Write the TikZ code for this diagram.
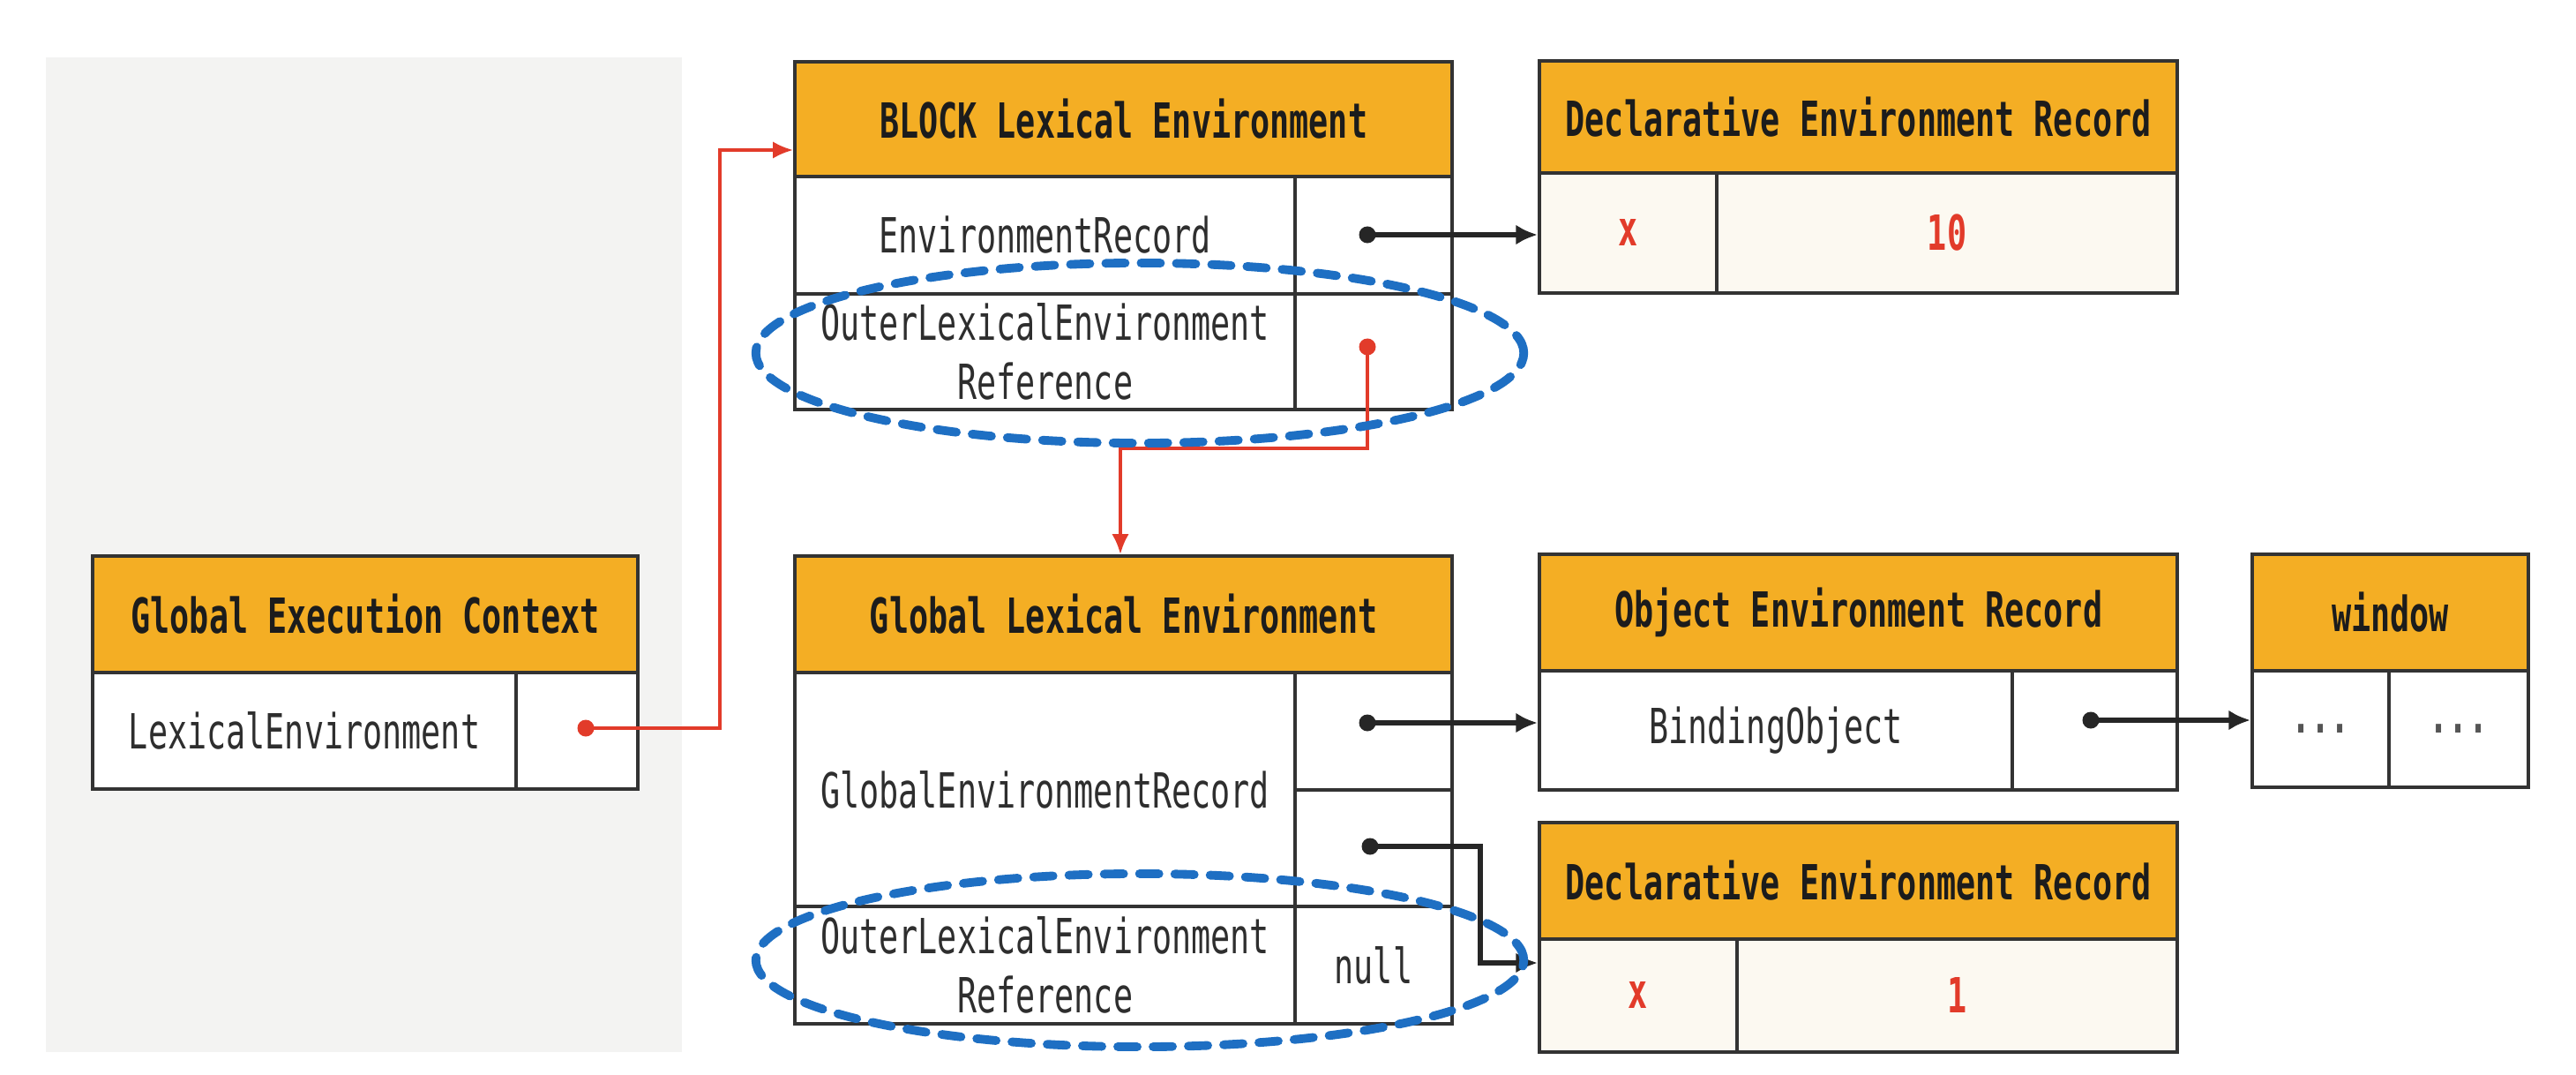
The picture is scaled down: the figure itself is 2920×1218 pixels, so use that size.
\documentclass[tikz,border=0pt]{standalone}
\usepackage{fontspec}
\newfontfamily\mono[FakeStretch=0.67]{DejaVu Sans Mono}
\usetikzlibrary{arrows.meta}
\definecolor{orng}{HTML}{F4AE24}
\definecolor{bordc}{HTML}{333333}
\definecolor{txtc}{HTML}{2E2E2E}
\definecolor{hdrtxt}{HTML}{1C1C1C}
\definecolor{creamc}{HTML}{FCF9F1}
\definecolor{panelc}{HTML}{F3F3F2}
\definecolor{redc}{HTML}{E23B2A}
\definecolor{bluec}{HTML}{1E6FC3}
\definecolor{dotsc}{HTML}{555555}
\tikzset{
  cellbase/.style={draw=bordc, line width=1.1pt, inner sep=0pt, anchor=north west,
    text=txtc, align=center, font=\mono\fontsize{15.6pt}{19pt}\selectfont},
  hdr/.style={cellbase, fill=orng, text=hdrtxt, font=\mono\bfseries\fontsize{15.6pt}{19pt}\selectfont},
  bodycell/.style={cellbase, fill=white},
  creamcell/.style={cellbase, fill=creamc},
  redval/.style={text=redc, font=\mono\bfseries\fontsize{15.6pt}{19pt}\selectfont},
  blackdot/.style={circle, fill=black!85, inner sep=0pt, minimum size=0.19cm},
  reddot/.style={circle, fill=redc, inner sep=0pt, minimum size=0.19cm},
  blackconn/.style={draw=black!85, line width=1.5pt, -{Latex[length=7pt,width=6.5pt]}},
  redconn/.style={draw=redc, line width=1pt, -{Latex[length=6.5pt,width=5.5pt]}},
  blueell/.style={draw=bluec, line width=2.8pt, line cap=round, dash pattern=on 0.22cm off 0.18cm},
}
\begin{document}
\begin{tikzpicture}[x=0.01cm, y=-0.01cm]
\fill[white] (0,0) rectangle (2920,1218);
\useasboundingbox (0,0) rectangle (2920,1218);
\fill[panelc] (52,65) rectangle (773,1192);

% Global Execution Context
\node[hdr, minimum width=6.18cm, minimum height=1.32cm] (gech) at (103,628) {Global Execution Context};
\node[bodycell, minimum width=4.80cm, minimum height=1.32cm] (geck) at (103,760) {LexicalEnvironment};
\node[bodycell, minimum width=1.38cm, minimum height=1.32cm] (gecv) at (583,760) {};

% BLOCK Lexical Environment
\node[hdr, minimum width=7.45cm, minimum height=1.30cm] (bleh) at (899,68) {BLOCK Lexical Environment};
\node[bodycell, minimum width=5.67cm, minimum height=1.33cm] (blek1) at (899,198) {EnvironmentRecord};
\node[bodycell, minimum width=1.78cm, minimum height=1.33cm] (blev1) at (1466,198) {};
\node[bodycell, minimum width=5.67cm, minimum height=1.31cm] (blek2) at (899,331) {OuterLexicalEnvironment\\Reference};
\node[bodycell, minimum width=1.78cm, minimum height=1.31cm] (blev2) at (1466,331) {};

% Declarative Environment Record (top)
\node[hdr, minimum width=7.23cm, minimum height=1.27cm] (dtoph) at (1743,67) {Declarative Environment Record};
\node[creamcell, minimum width=2.01cm, minimum height=1.36cm, redval] (dtopx) at (1743,194) {x};
\node[creamcell, minimum width=5.22cm, minimum height=1.36cm, redval] (dtopv) at (1944,194) {10};

% Global Lexical Environment
\node[hdr, minimum width=7.45cm, minimum height=1.32cm] (gleh) at (899,628) {Global Lexical Environment};
\node[bodycell, minimum width=5.67cm, minimum height=2.65cm] (glek1) at (899,760) {GlobalEnvironmentRecord};
\node[bodycell, minimum width=1.78cm, minimum height=1.33cm] (glev1) at (1466,760) {};
\node[bodycell, minimum width=1.78cm, minimum height=1.32cm] (glev2) at (1466,893) {};
\node[bodycell, minimum width=5.67cm, minimum height=1.33cm] (glek2) at (899,1025) {OuterLexicalEnvironment\\Reference};
\node[bodycell, minimum width=1.78cm, minimum height=1.33cm] (glev3) at (1466,1025) {null};

% Object Environment Record
\node[hdr, minimum width=7.23cm, minimum height=1.32cm] (objh) at (1743,626) {Object Environment Record};
\node[bodycell, minimum width=5.36cm, minimum height=1.35cm] (objk) at (1743,758) {BindingObject};
\node[bodycell, minimum width=1.87cm, minimum height=1.35cm] (objv) at (2279,758) {};

% window
\node[hdr, minimum width=3.13cm, minimum height=1.32cm] (winh) at (2551,626) {window};
\node[bodycell, minimum width=1.55cm, minimum height=1.32cm, text=dotsc] (wina) at (2551,758) {\bfseries ...};
\node[bodycell, minimum width=1.58cm, minimum height=1.32cm, text=dotsc] (winb) at (2706,758) {\bfseries ...};

% Declarative Environment Record (bottom)
\node[hdr, minimum width=7.23cm, minimum height=1.32cm] (dboth) at (1743,930) {Declarative Environment Record};
\node[creamcell, minimum width=2.24cm, minimum height=1.28cm, redval] (dbotx) at (1743,1062) {x};
\node[creamcell, minimum width=4.99cm, minimum height=1.28cm, redval] (dbotv) at (1967,1062) {1};

% dots
\node[reddot] (d0) at (664,825) {};
\node[blackdot] (d1) at (1550,266) {};
\node[reddot] (d2) at (1550,393) {};
\node[blackdot] (d3) at (1550,819) {};
\node[blackdot] (d4) at (1553,959) {};
\node[blackdot] (d5) at (2370,816) {};

% bend points
\coordinate (r1) at (816,170);
\coordinate (r2) at (1270,508);
\coordinate (r3) at (1678,1091);

% connectors
\draw[redconn] (d0.center) -| (r1) -- (r1 -| bleh.west);
\draw[redconn] (d2.center) |- (r2) -- (r2 |- gleh.north);
\draw[blackconn] (d1.center) -- (d1 -| dtopx.west);
\draw[blackconn] (d3.center) -- (d3 -| objk.west);
\draw[blackconn] (d4.center) -| (r3) -- (r3 -| dbotx.west);
\draw[blackconn] (d5.center) -- (d5 -| wina.west);

% highlight ellipses
\draw[blueell] (1292,400) ellipse [x radius=4.35cm, y radius=1.02cm];
\draw[blueell] (1292,1088) ellipse [x radius=4.35cm, y radius=0.98cm];
\end{tikzpicture}
\end{document}
